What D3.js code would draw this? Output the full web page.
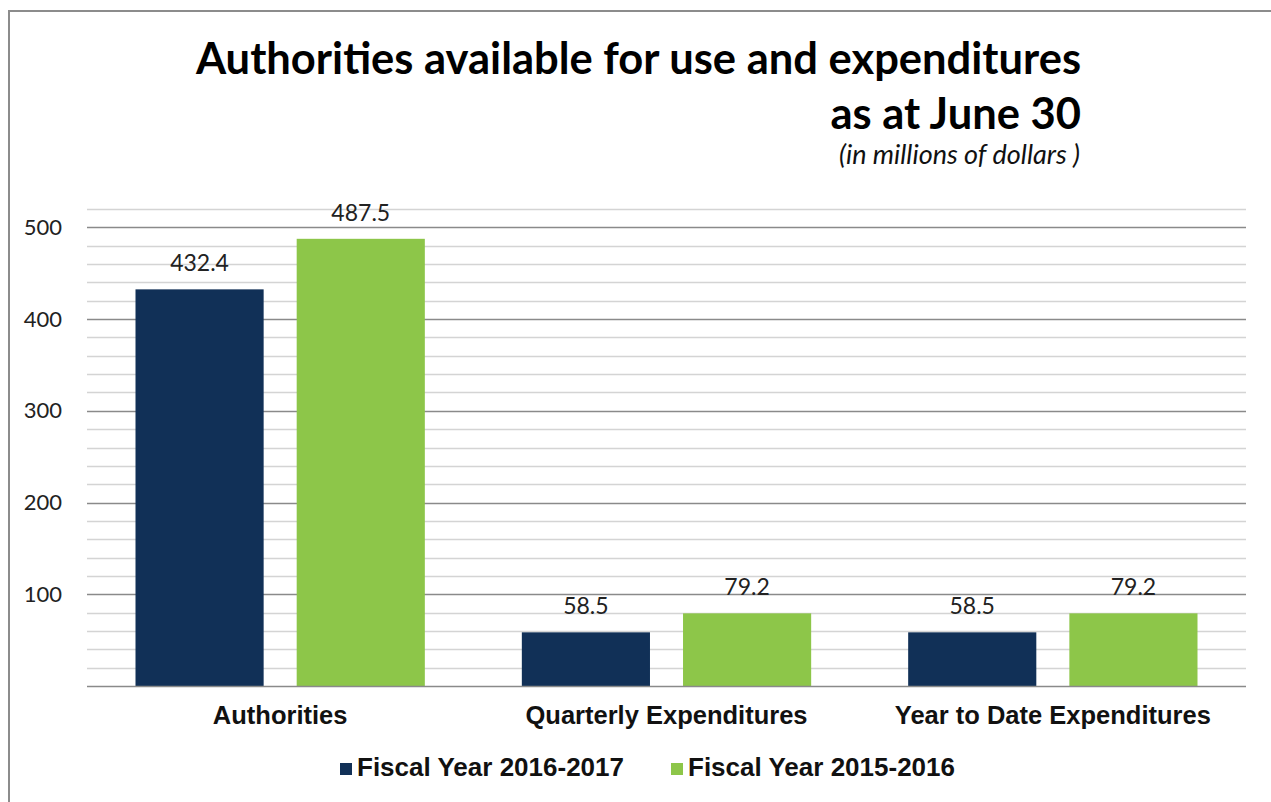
<!DOCTYPE html>
<html>
<head>
<meta charset="utf-8">
<script src="https://cdn.jsdelivr.net/npm/d3@7/dist/d3.min.js"></script>
<style>
  body { margin: 0; background: #fff; }
  svg { display: block; }
</style>
</head>
<body>
<div id="chart"></div>
<script>
var categories = ['Authorities', 'Quarterly Expenditures', 'Year to Date Expenditures']
var seriesNames = ['Fiscal Year 2016-2017', 'Fiscal Year 2015-2016']
var fy1617 = [432.4, 58.5, 58.5]
var fy1516 = [487.5, 79.2, 79.2]
var yTicks = [100, 200, 300, 400, 500]
var colors = ['#113057', '#8dc649']

var width = 1271, height = 802
var margin = {left: 87, right: 25, top: 209, bottom: 116}

var svg = d3.select('#chart').append('svg')
    .attr('width', width)
    .attr('height', height)

// frame of the chart area (only left and top edges are visible)
svg.append('path')
    .attr('d', 'M9,802 L9,11 L1271,11')
    .attr('fill', 'none')
    .attr('stroke', '#8c8c8c')
    .attr('stroke-width', 2)

var y = d3.scaleLinear()
    .domain([0, 520])
    .range([height - margin.bottom, margin.top])

var x0 = d3.scaleBand()
    .domain(categories)
    .range([margin.left, width - margin.right])

var x1 = d3.scaleBand()
    .domain(seriesNames)
    .range([48.5, x0.bandwidth() - 48.5])
    .paddingInner(0.205)

// gridlines, minor every 20, major every 100
var grid = svg.append('g')
d3.range(20, 521, 20).forEach(function(v) {
    var major = v % 100 == 0
    grid.append('line')
        .attr('x1', margin.left).attr('x2', width - margin.right)
        .attr('y1', Math.round(y(v)) + 0.5).attr('y2', Math.round(y(v)) + 0.5)
        .attr('stroke', major ? '#8a8a8a' : '#d4d4d4')
        .attr('stroke-width', major ? 1.3 : 1.6)
})

// y tick labels
var yAxis = svg.append('g')
    .attr('transform', 'translate(' + margin.left + ',0)')
    .call(d3.axisLeft(y).tickValues(yTicks).tickSize(0).tickPadding(25))
yAxis.select('.domain').remove()
yAxis.selectAll('text')
    .attr('font-family', 'Lato, "Open Sans", sans-serif')
    .attr('font-size', 22)
    .attr('fill', '#222')

var rows = categories.map(function(c, i) {
    return {cat: c, vals: [fy1617[i], fy1516[i]]}
})

var groups = svg.selectAll('g.grp')
    .data(rows)
    .join('g')
    .attr('class', 'grp')
    .attr('transform', d => 'translate(' + x0(d.cat) + ',0)')

groups.selectAll('rect')
    .data(d => d.vals.map((v, j) => ({name: seriesNames[j], v: v, j: j})))
    .join('rect')
    .attr('x', d => x1(d.name))
    .attr('width', x1.bandwidth())
    .attr('y', d => y(d.v))
    .attr('height', d => y(0) - y(d.v))
    .attr('fill', d => colors[d.j])

groups.selectAll('text.val')
    .data(d => d.vals.map((v, j) => ({name: seriesNames[j], v: v, j: j})))
    .join('text')
    .attr('class', 'val')
    .attr('x', d => x1(d.name) + x1.bandwidth() / 2)
    .attr('y', d => y(d.v) - 18)
    .attr('text-anchor', 'middle')
    .attr('font-family', 'Lato, "Open Sans", sans-serif')
    .attr('font-size', 23)
    .attr('fill', '#222')
    .text(d => d.v.toFixed(1))

// baseline
svg.append('line')
    .attr('x1', margin.left).attr('x2', width - margin.right)
    .attr('y1', y(0) + 0.5).attr('y2', y(0) + 0.5)
    .attr('stroke', '#8a8a8a')
    .attr('stroke-width', 1.5)

// category labels
svg.append('g')
    .selectAll('text')
    .data(categories)
    .join('text')
    .attr('x', d => x0(d) + x0.bandwidth() / 2)
    .attr('y', 724)
    .attr('text-anchor', 'middle')
    .attr('font-family', '"Liberation Sans", Arial, sans-serif')
    .attr('font-weight', 'bold')
    .attr('font-size', 25.5)
    .attr('fill', '#111')
    .text(d => d)

// titles
svg.append('text')
    .attr('x', 1081).attr('y', 74)
    .attr('text-anchor', 'end')
    .attr('font-family', 'Lato, "Open Sans", sans-serif')
    .attr('font-weight', 'bold')
    .attr('font-size', 43.5)
    .attr('fill', '#000')
    .text('Authorities available for use and expenditures')
svg.append('text')
    .attr('x', 1081).attr('y', 129)
    .attr('text-anchor', 'end')
    .attr('font-family', 'Lato, "Open Sans", sans-serif')
    .attr('font-weight', 'bold')
    .attr('font-size', 43.5)
    .attr('fill', '#000')
    .text('as at June 30')
svg.append('text')
    .attr('x', 1080).attr('y', 164)
    .attr('text-anchor', 'end')
    .attr('font-family', 'Lato, "Open Sans", sans-serif')
    .attr('font-style', 'italic')
    .attr('font-size', 27)
    .attr('fill', '#111')
    .text('(in millions of dollars )')

// legend
var legX = [340, 671]
var legend = svg.append('g')
    .selectAll('g')
    .data(seriesNames)
    .join('g')
    .attr('transform', (d, i) => 'translate(' + legX[i] + ',763)')
legend.append('rect')
    .attr('width', 12).attr('height', 12)
    .attr('y', 0)
    .attr('fill', (d, i) => colors[i])
legend.append('text')
    .attr('x', 17).attr('y', 13)
    .attr('font-family', '"Liberation Sans", Arial, sans-serif')
    .attr('font-weight', 'bold')
    .attr('font-size', 26)
    .attr('fill', '#111')
    .text(d => d)
</script>
</body>
</html>
